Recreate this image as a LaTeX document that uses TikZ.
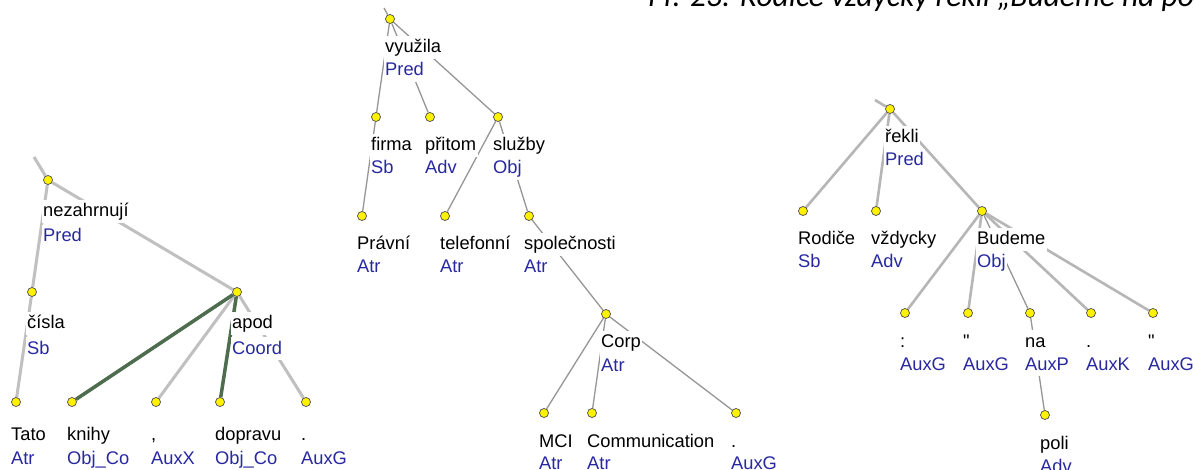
\documentclass[tikz,border=0pt]{standalone}
\usepackage{fontspec}
\newfontfamily\wfont{Liberation Sans}
\newfontfamily\tfont{Carlito}
\definecolor{lblue}{RGB}{40,40,160}
\definecolor{dgreen}{RGB}{78,108,78}
\definecolor{lgray}{RGB}{192,192,192}
\definecolor{mgray}{RGB}{150,150,150}
\pgfdeclarelayer{back}
\pgfdeclarelayer{bg}
\pgfsetlayers{back,bg,main}
\tikzset{
  dot/.style={circle, draw=black!70, fill=yellow, inner sep=0pt, minimum size=9pt, line width=0.7pt},
  txt/.style={anchor=base west, font=\wfont\fontsize{18.3}{20}\selectfont, fill=white, inner xsep=1.5pt, inner ysep=0pt, text height=17pt, text depth=6pt},
  wrd/.style={txt, text=black},
  lbl/.style={txt, text=lblue},
  eA/.style={draw=lgray, line width=3pt},
  eG/.style={draw=dgreen, line width=3.5pt},
  eB/.style={draw=mgray, line width=1.3pt},
  eC/.style={draw=lgray!95!black, line width=2.6pt},
}
% name, x, y, word, label, dy word, dy label
\newcommand\tn[7]{%
  \node[dot] (#1) at (#2,#3) {};
  \node[wrd] (#1w) at (#2-6.5,#3+#6) {#4};
  \node[lbl] (#1l) at (#2-6.5,#3+#7) {#5};}
\begin{document}
\begin{tikzpicture}[x=1pt,y=-1pt]
\useasboundingbox (0,0) rectangle (1194,470);
\clip (0,0) rectangle (1194,470);
\begin{pgfonlayer}{back}
\fill[white] (0,0) rectangle (1194,470);
\end{pgfonlayer}
% title (cut at the top)
\node[anchor=base west, font=\tfont\itshape\fontsize{31.5}{33}\selectfont, inner sep=0pt] (title) at (648,7) {Př. 23: Rodiče vždycky řekli „Budeme na poli“};
% ---------- left tree ----------
\tn{nez}{48}{180}{nezahrnují}{Pred}{37}{62}
\tn{cis}{32}{292}{čísla}{Sb}{37}{62}
\tn{apod}{237}{292}{apod}{Coord}{37}{62}
\tn{tato}{16}{402}{Tato}{Atr}{38}{62}
\tn{knihy}{72}{402}{knihy}{Obj\_Co}{38}{62}
\tn{comma}{156}{402}{,}{AuxX}{38}{62}
\tn{dopr}{220}{402}{dopravu}{Obj\_Co}{38}{62}
\tn{lper}{306}{402}{.}{AuxG}{38}{62}
\coordinate (p1) at (34,157);
% ---------- middle tree ----------
\tn{vyz}{390}{19}{využila}{Pred}{34}{57}
\tn{firma}{376}{117}{firma}{Sb}{34}{57}
\tn{prit}{430}{117}{přitom}{Adv}{34}{57}
\tn{sluz}{498}{117}{služby}{Obj}{34}{57}
\tn{prav}{362}{216}{Právní}{Atr}{34}{57}
\tn{tel}{445}{216}{telefonní}{Atr}{34}{57}
\tn{spol}{529}{216}{společnosti}{Atr}{34}{57}
\tn{corp}{606}{314}{Corp}{Atr}{34}{57}
\tn{mci}{544}{413}{MCI}{Atr}{34}{56}
\tn{comm}{592}{413}{Communication}{Atr}{34}{56}
\tn{mper}{736}{413}{.}{AuxG}{34}{56}
\coordinate (p2) at (384,8);
% ---------- right tree ----------
\tn{rek}{890}{109}{řekli}{Pred}{34}{57}
\tn{rod}{803}{211}{Rodiče}{Sb}{34}{57}
\tn{vzd}{876}{211}{vždycky}{Adv}{34}{57}
\tn{bud}{982}{211}{Budeme}{Obj}{34}{57}
\tn{col}{905}{313}{:}{AuxG}{34}{57}
\tn{qa}{968}{313}{"}{AuxG}{34}{57}
\tn{na}{1030}{313}{na}{AuxP}{34}{57}
\tn{rper}{1091}{313}{.}{AuxK}{34}{57}
\tn{qb}{1153}{313}{"}{AuxG}{34}{57}
\tn{poli}{1045}{415}{poli}{Adv}{34}{57}
\coordinate (p3) at (875,100);
% ---------- edges ----------
\begin{pgfonlayer}{bg}
\draw[eA] (p1) -- (nez);
\draw[eA] (nez) -- (cis);
\draw[eA] (nez) -- (apod);
\draw[eA] (cis) -- (tato);
\draw[eA] (apod) -- (comma);
\draw[eA] (apod) -- (lper);
\draw[eG] (apod) -- (knihy);
\draw[eG] (apod) -- (dopr);
\draw[eB] (p2) -- (vyz);
\draw[eB] (vyz) -- (firma);
\draw[eB] (vyz) -- (prit);
\draw[eB] (vyz) -- (sluz);
\draw[eB] (firma) -- (prav);
\draw[eB] (sluz) -- (tel);
\draw[eB] (sluz) -- (spol);
\draw[eB] (spol) -- (corp);
\draw[eB] (corp) -- (mci);
\draw[eB] (corp) -- (comm);
\draw[eB] (corp) -- (mper);
\draw[eC] (p3) -- (rek);
\draw[eC] (rek) -- (rod);
\draw[eC] (rek) -- (vzd);
\draw[eC] (rek) -- (bud);
\draw[eC] (bud) -- (col);
\draw[eC] (bud) -- (qa);
\draw[eB] (bud) -- (na);
\draw[eC] (bud) -- (rper);
\draw[eC] (bud) -- (qb);
\draw[eB] (na) -- (poli);
\end{pgfonlayer}
\end{tikzpicture}
\end{document}
